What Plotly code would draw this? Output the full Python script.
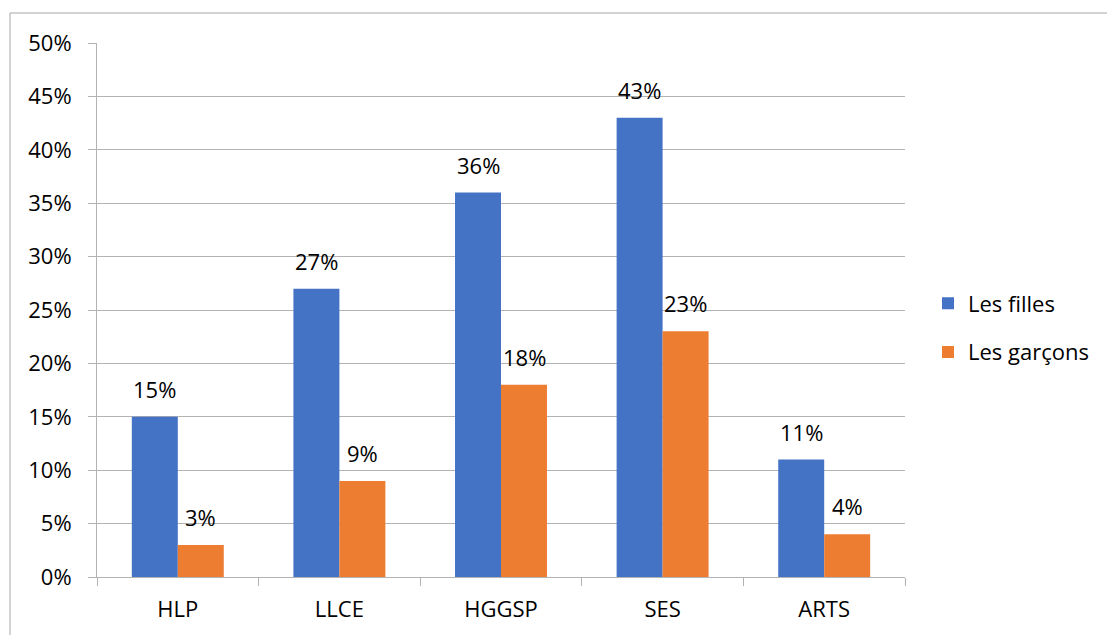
import plotly.graph_objects as go

categories = ["HLP", "LLCE", "HGGSP", "SES", "ARTS"]
filles = [15, 27, 36, 43, 11]
garcons = [3, 9, 18, 23, 4]
series_names = ["Les filles", "Les garçons"]
y_ticks = [0, 5, 10, 15, 20, 25, 30, 35, 40, 45, 50]

BLUE = "#4472C4"
ORANGE = "#ED7D31"
GRID = "#b3b3b3"
FONT = "Open Sans"
FS = 22

fig = go.Figure()
fig.add_trace(go.Bar(x=categories, y=filles, name=series_names[0], marker_color=BLUE,
                     marker_line_width=0, legendgroup="a"))
fig.add_trace(go.Bar(x=categories, y=garcons, name=series_names[1], marker_color=ORANGE,
                     marker_line_width=0, legendgroup="b"))

bar_px = 46
for vals, shift in ((filles, -bar_px / 2), (garcons, bar_px / 2)):
    for c, v in zip(categories, vals):
        fig.add_annotation(x=c, y=v, text=f"{v}%", showarrow=False, xshift=shift, yshift=28,
                           yanchor="middle", xanchor="center",
                           font=dict(family=FONT, size=FS, color="#000"))

fig.add_shape(type="rect", xref="paper", yref="paper",
              x0=(10 - 97) / 808, x1=1.4, y0=-0.2, y1=(577 - 13) / 534,
              line=dict(color="#a6a6a6", width=1), fillcolor="rgba(0,0,0,0)", layer="below")

fig.update_layout(
    width=1107, height=635,
    margin=dict(l=97, r=202, t=43, b=58),
    paper_bgcolor="white", plot_bgcolor="white",
    barmode="group", bargap=0.431, bargroupgap=0,
    font=dict(family=FONT, size=FS, color="#000"),
    legend=dict(x=(928 - 97) / 808, xanchor="left", y=(577 - 328) / 534, yanchor="middle",
                font=dict(family=FONT, size=FS), tracegroupgap=17, traceorder="grouped",
                bgcolor="rgba(0,0,0,0)"),
    xaxis=dict(showline=True, linecolor=GRID, linewidth=1, ticks="outside", ticklen=8,
               tickcolor=GRID, tickson="boundaries", showgrid=False,
               tickfont=dict(family=FONT, size=FS), ticklabelstandoff=13),
    yaxis=dict(range=[0, 50], tickvals=y_ticks, ticktext=[f"{t}%" for t in y_ticks],
               showline=True, linecolor=GRID, linewidth=1, showgrid=True, gridcolor=GRID,
               gridwidth=1, ticks="outside", ticklen=8, tickcolor=GRID, zeroline=False,
               tickfont=dict(family=FONT, size=FS), ticklabelstandoff=12),
)

fig.write_html("out.html", config={"displayModeBar": False},
               post_script="document.body.style.margin='0';")
